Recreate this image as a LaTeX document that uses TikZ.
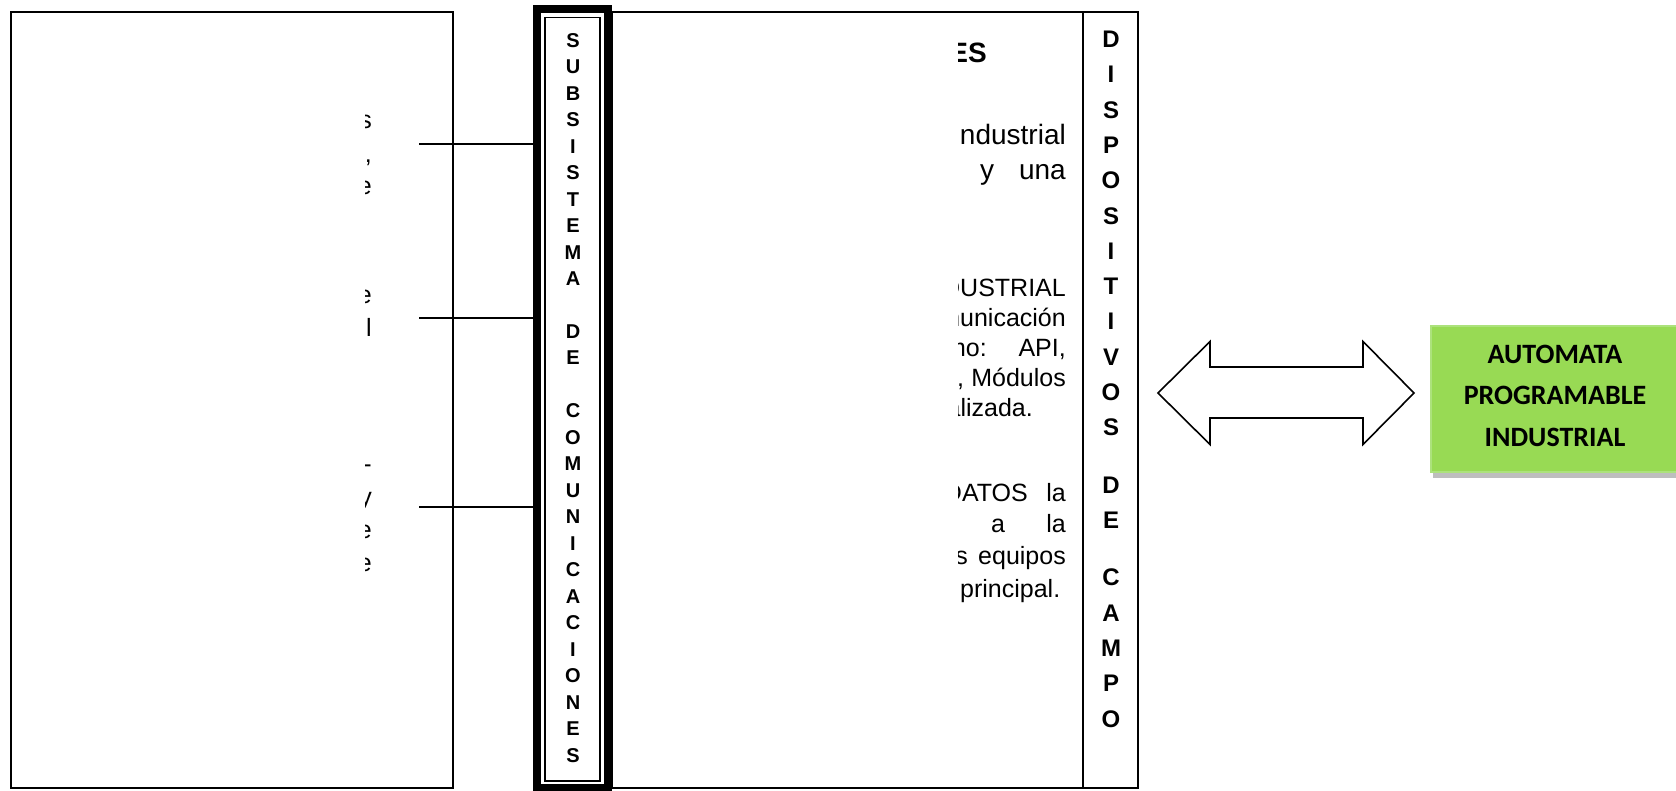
\documentclass[tikz,border=0pt]{standalone}
\usepackage{fontspec}
\setmainfont{Liberation Sans}
\newfontfamily\plcfont{Carlito}
\definecolor{plcgreen}{RGB}{152,218,84}
\definecolor{plcedge}{RGB}{172,226,124}
\definecolor{plcshadow}{RGB}{190,190,190}
\begin{document}
\begin{tikzpicture}[x=1pt,y=-1pt,
  box/.style={draw, line width=1.5pt, inner sep=0pt, outer sep=0pt},
  conn/.style={line width=2.3pt},
  subletter/.style={font=\bfseries\fontsize{20}{20}\selectfont, anchor=base, inner sep=0pt},
  disletter/.style={font=\bfseries\fontsize{24}{24}\selectfont, anchor=base, inner sep=0pt},
  titletext/.style={font=\bfseries\fontsize{28}{28}\selectfont, inner sep=0pt},
  bigtext/.style={font=\fontsize{28}{28}\selectfont, inner sep=0pt},
  midtext/.style={font=\fontsize{25}{25}\selectfont, inner sep=0pt},
  arrowshape/.style={draw, line width=1.6pt, fill=white, line join=miter},
  plcbox/.style={fill=plcgreen, draw=plcedge, line width=1.5pt, minimum width=248pt, minimum height=146pt, inner sep=0pt},
  plctext/.style={font=\plcfont\bfseries\fontsize{28}{41.5}\selectfont, align=center, inner sep=0pt}
]
\useasboundingbox (0,0) rectangle (1676,791);

% left box
\node[box, minimum width=442pt, minimum height=776pt] (left) at (232,400) {};
\begin{scope}
  \clip (365,0) rectangle (452,791);
  \foreach \c/\yy [count=\k] in {s/129, {,}/163, e/195, e/304, l/337, -/472, y/505, e/538, e/571}
    \node[midtext, anchor=base east] (lf\k) at (372,\yy) {\c};
\end{scope}

% middle box and field-device column
\node[box, minimum width=471pt, minimum height=776pt] (mid) at (847.5,400) {};
\node[box, minimum width=55pt, minimum height=776pt] (dcol) at (1110.5,400) {};

% subsystem column (thick-thin frame)
\node[draw, line width=8pt, fill=white, minimum width=70.5pt, minimum height=779pt, inner sep=0pt, outer sep=0pt] (sub) at (572.25,398.5) {};
\node[draw, line width=1.6pt, minimum width=55pt, minimum height=763.5pt, inner sep=0pt, outer sep=0pt] (subin) at (572.5,399.25) {};

% connectors
\coordinate (c1) at (419,144);
\coordinate (c2) at (419,318);
\coordinate (c3) at (419,507);
\draw[conn] (c1) -- (sub.west |- c1);
\draw[conn] (c2) -- (sub.west |- c2);
\draw[conn] (c3) -- (sub.west |- c3);

% letters of SUBSISTEMA DE COMUNICACIONES
\foreach \l/\i in {S/0,U/1,B/2,S/3,I/4,S/5,T/6,E/7,M/8,A/9,D/11,E/12,C/14,O/15,M/16,U/17,N/18,I/19,C/20,A/21,C/22,I/23,O/24,N/25,E/26,S/27}
  \node[subletter] (s\i) at (573,{47.2+\i*26.48}) {\l};

% letters of DISPOSITIVOS DE CAMPO
\foreach \l/\i in {D/0,I/1,S/2,P/3,O/4,S/5,I/6,T/7,I/8,V/9,O/10,S/11}
  \node[disletter] (d\i) at (1111,{47.6+\i*35.3}) {\l};
\foreach \l/\yy [count=\k] in {D/484.5,E/519.8,C/577.3,A/612.6,M/647.9,P/683.2,O/718.5}
  \node[disletter] (e\k) at (1111,{\yy+8.6}) {\l};

% clipped text of the middle box
\begin{scope}
  \clip (958,0) rectangle (1082,791);
  \node[titletext, anchor=base east] (t0) at (987,63) {ES};
  \node[bigtext, anchor=base east] (t1) at (1066,145) {ndustrial};
  \node[bigtext, anchor=base west] (t2a) at (980,180) {y};
  \node[bigtext, anchor=base east] (t2b) at (1066,180) {una};
  \node[midtext, anchor=base east] (t3) at (1066,297) {DUSTRIAL};
  \node[midtext, anchor=base east] (t4) at (1066,327) {municación};
  \node[midtext, anchor=base east] (t5a) at (987,357) {mo:};
  \node[midtext, anchor=base east] (t5b) at (1066,357) {API,};
  \node[midtext, anchor=base west] (t6a) at (957,387) {,};
  \node[midtext, anchor=base east] (t6b) at (1066,387) {Módulos};
  \node[midtext, anchor=base east] (t7) at (1033,417) {alizada.};
  \node[midtext, anchor=base east] (t8a) at (1028,501) {DATOS};
  \node[midtext, anchor=base east] (t8b) at (1066,501) {la};
  \node[midtext, anchor=base west] (t9a) at (991,532) {a};
  \node[midtext, anchor=base east] (t9b) at (1066,532) {la};
  \node[midtext, anchor=base east] (t10a) at (968,564) {s};
  \node[midtext, anchor=base east] (t10b) at (1066,564) {equipos};
  \node[midtext, anchor=base west] (t11) at (960,597) {principal.};
\end{scope}

% double arrow
\draw[arrowshape] (1158,393) -- (1210,341.5) -- (1210,367) -- (1363,367) -- (1363,341.5) -- (1414,393)
  -- (1363,444.5) -- (1363,418) -- (1210,418) -- (1210,444.5) -- cycle;

% PLC box with shadow
\fill[plcshadow] (1433,330) rectangle (1682,478);
\node[plcbox] (plc) at (1555,399) {};
\node[plctext] (plcT) at (1555,395.5) {AUTOMATA\\PROGRAMABLE\\INDUSTRIAL};
\end{tikzpicture}
\end{document}
